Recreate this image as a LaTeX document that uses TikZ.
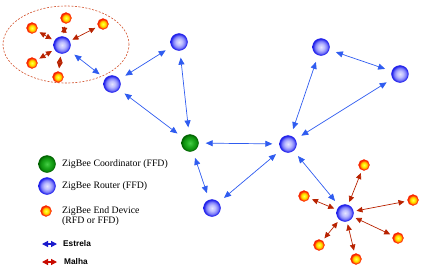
\documentclass[tikz,border=0pt]{standalone}
\usepackage{fontspec}
\setmainfont{Liberation Serif}
\newfontfamily\arialfont{Liberation Sans}
\usetikzlibrary{arrows.meta}
\definecolor{rtdraw}{HTML}{2222EE}
\definecolor{coout}{HTML}{006400}
\definecolor{edout}{HTML}{FF2A00}
\definecolor{starc}{HTML}{2F5CF0}
\definecolor{meshc}{HTML}{B82200}
\definecolor{ellc}{HTML}{D2502A}
\definecolor{legblue}{HTML}{1A1ACC}
\definecolor{legred}{HTML}{C80A00}
\pgfdeclareradialshading{rtshade}{\pgfpoint{0bp}{0bp}}{%
  color(0bp)=(rgb,255:red,228;green,228;blue,255);
  color(9bp)=(rgb,255:red,190;green,190;blue,255);
  color(17bp)=(rgb,255:red,130;green,130;blue,250);
  color(22bp)=(rgb,255:red,60;green,60;blue,240);
  color(25bp)=(rgb,255:red,26;green,26;blue,230);
  color(50bp)=(rgb,255:red,26;green,26;blue,230)}
\pgfdeclareradialshading{coshade}{\pgfpoint{0bp}{0bp}}{%
  color(0bp)=(rgb,255:red,70;green,205;blue,70);
  color(11bp)=(rgb,255:red,30;green,170;blue,30);
  color(20bp)=(rgb,255:red,12;green,140;blue,12);
  color(25bp)=(rgb,255:red,0;green,95;blue,0);
  color(50bp)=(rgb,255:red,0;green,95;blue,0)}
\pgfdeclareradialshading{edshade}{\pgfpoint{0bp}{0bp}}{%
  color(0bp)=(rgb,255:red,255;green,255;blue,80);
  color(9bp)=(rgb,255:red,255;green,240;blue,0);
  color(15bp)=(rgb,255:red,255;green,170;blue,0);
  color(20bp)=(rgb,255:red,255;green,60;blue,0);
  color(25bp)=(rgb,255:red,240;green,30;blue,0);
  color(50bp)=(rgb,255:red,240;green,30;blue,0)}
\begin{document}
\begin{tikzpicture}[x=1pt,y=-1pt,
  router/.style={circle,minimum size=17pt,inner sep=0pt,shading=rtshade,draw=rtdraw,line width=0.4pt},
  coord/.style={circle,minimum size=17pt,inner sep=0pt,shading=coshade,draw=coout,line width=0.4pt},
  enddev/.style={circle,minimum size=11pt,inner sep=0pt,shading=edshade,draw=edout,line width=0.3pt},
  star/.style={starc,line width=0.7pt,{Triangle[length=7pt,width=6pt]}-{Triangle[length=7pt,width=6pt]},shorten <=7pt,shorten >=7pt},
  mesh/.style={meshc,line width=0.7pt,{Triangle[length=6pt,width=5.5pt]}-{Triangle[length=6pt,width=5.5pt]},shorten <=3pt,shorten >=3pt},
  legtext/.style={anchor=west,inner sep=0pt,font=\fontsize{9.8}{10.5}\selectfont,align=left},
  legbold/.style={anchor=west,inner sep=0pt,font=\arialfont\bfseries\fontsize{8.3}{9}\selectfont},
  legarrow/.style={line width=1.2pt,{Triangle[length=6pt,width=6pt]}-{Triangle[length=6pt,width=6pt]}}
]
\useasboundingbox (0,0) rectangle (424,271);
% ellipse
\draw[ellc,line width=0.6pt,dash pattern=on 2pt off 1.5pt] (66,44.5) ellipse [x radius=63pt,y radius=38.5pt];
% nodes
\node[router] (r1) at (62,45) {};
\node[router] (r2) at (112,84) {};
\node[router] (r3) at (179,42) {};
\node[coord]  (c)  at (190,143) {};
\node[router] (r4) at (212,208) {};
\node[router] (r5) at (288,144) {};
\node[router] (r6) at (321,47) {};
\node[router] (r7) at (400,74) {};
\node[router] (r8) at (345,213) {};
\node[enddev] (a1) at (66,18) {};
\node[enddev] (a2) at (32,28) {};
\node[enddev] (a3) at (103,24) {};
\node[enddev] (a4) at (32,63) {};
\node[enddev] (a5) at (58,77) {};
\node[enddev] (b1) at (364,165) {};
\node[enddev] (b2) at (304,196) {};
\node[enddev] (b3) at (413,200) {};
\node[enddev] (b4) at (398,238) {};
\node[enddev] (b5) at (319,245) {};
\node[enddev] (b6) at (356,259) {};
% star links
\draw[star] (r1) -- (r2);
\draw[star] (r2) -- (r3);
\draw[star] (r2) -- (c);
\draw[star] (r3) -- (c);
\draw[star] (c) -- (r5);
\draw[star] (c) -- (r4);
\draw[star] (r5) -- (r4);
\draw[star] (r5) -- (r6);
\draw[star] (r6) -- (r7);
\draw[star] (r7) -- (r5);
\draw[star] (r5) -- (r8);
% mesh links
\foreach \e in {a1,a2,a3,a4,a5} \draw[mesh] (r1) -- (\e);
\foreach \e in {b1,b2,b3,b4,b5,b6} \draw[mesh] (r8) -- (\e);
% legend
\node[coord] (lc) at (47,164) {};
\node[router] (lr) at (47,186) {};
\node[enddev] (le) at (46,211) {};
\node[legtext] (tc) at (62,164) {ZigBee Coordinator (FFD)};
\node[legtext] (tr) at (62,186) {ZigBee Router (FFD)};
\node[legtext] (te) at (62,216) {ZigBee End Device\\(RFD or FFD)};
\coordinate (sb1) at (42,244);
\coordinate (sb2) at (57,244);
\coordinate (mr1) at (42,262);
\coordinate (mr2) at (57,262);
\draw[legarrow,legblue] (sb1) -- (sb2);
\draw[legarrow,legred] (mr1) -- (mr2);
\node[legbold] (ts) at (63,244) {Estrela};
\node[legbold] (tm) at (64,262) {Malha};
\end{tikzpicture}
\end{document}
